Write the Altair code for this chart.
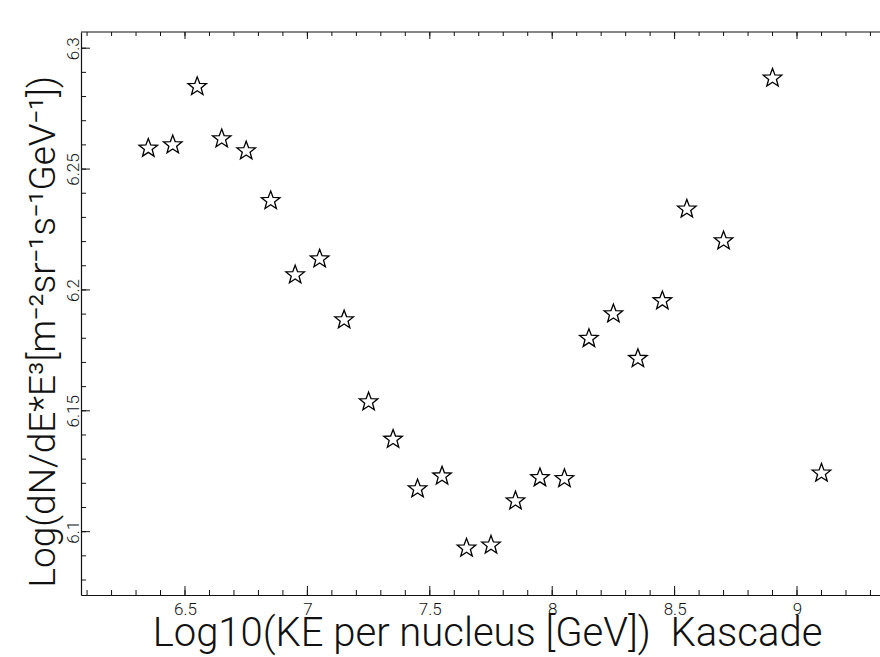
import altair as alt
import pandas as pd

# ---- data ----
x_vals = [6.35, 6.45, 6.55, 6.65, 6.75, 6.85, 6.95, 7.05, 7.15, 7.25, 7.35, 7.45, 7.55,
          7.65, 7.75, 7.85, 7.95, 8.05, 8.15, 8.25, 8.35, 8.45, 8.55, 8.70, 8.90, 9.10]
y_vals = [6.2586, 6.2600, 6.2841, 6.2625, 6.2575, 6.2369, 6.2062, 6.2128, 6.1876, 6.1537,
          6.1382, 6.1177, 6.1230, 6.0932, 6.0944, 6.1127, 6.1223, 6.1219, 6.1799, 6.1901,
          6.1716, 6.1955, 6.2334, 6.2203, 6.2876, 6.1242]

x_major = [6.5, 7.0, 7.5, 8.0, 8.5, 9.0]
x_minor = [round(6.1 + 0.1 * i, 2) for i in range(33)]
y_major = [6.1, 6.15, 6.2, 6.25, 6.3]
y_minor = [round(6.08 + 0.01 * i, 2) for i in range(23)]

x_title = "Log10(KE per nucleus [GeV])\u00a0\u00a0Kascade"
y_title = "Log(dN/dE*E\u00b3[m\u207b\u00b2sr\u207b\u00b9s\u207b\u00b9GeV\u207b\u00b9])"

# ---- layout ----
W, H = 799, 563
FONT = "Roboto"
INK = "#111111"

xs = alt.Scale(domain=[6.0752, 9.339], nice=False, zero=False)
ys = alt.Scale(domain=[6.0738, 6.3067], nice=False, zero=False)

STAR = ("M0,-1L0.2469,-0.3398L0.9511,-0.309L0.3995,0.1298L0.5878,0.809"
        "L0,0.42L-0.5878,0.809L-0.3995,0.1298L-0.9511,-0.309L-0.2469,-0.3398Z")

x_axis = alt.Axis(
    values=x_major, format="~g", ticks=False, tickSize=0, grid=False,
    domain=True, domainColor=INK, domainWidth=1.2,
    labelFont=FONT, labelFontSize=17, labelFontWeight=300, labelColor=INK,
    labelPadding=6, labelBaseline="top",
    title=x_title, titleFont=FONT, titleFontSize=40, titleFontWeight=300,
    titleColor=INK, titleX=406, titleY=50, titleAlign="center",
    titleBaseline="alphabetic")
y_axis = alt.Axis(
    values=y_major, format="~g", ticks=False, tickSize=0, grid=False,
    domain=True, domainColor=INK, domainWidth=1.2,
    labelFont=FONT, labelFontSize=17, labelFontWeight=300, labelColor=INK,
    labelAngle=270, labelAlign="center", labelBaseline="alphabetic",
    labelPadding=3,
    title=y_title, titleFont=FONT, titleFontSize=37, titleFontWeight=300,
    titleColor=INK, titleAngle=270, titleX=-27, titleY=555,
    titleAlign="left", titleBaseline="alphabetic")

df = pd.DataFrame({"x": x_vals, "y": y_vals})

points = alt.Chart(df).mark_point(
    shape=STAR, size=380, filled=False, color="black", strokeWidth=1.3, opacity=1
).encode(
    x=alt.X("x:Q", scale=xs, axis=x_axis),
    y=alt.Y("y:Q", scale=ys, axis=y_axis),
)

def xticks(vals, length, top):
    d = pd.DataFrame({"x": vals})
    if top:
        enc = dict(y=alt.value(0), y2=alt.value(length))
    else:
        enc = dict(y=alt.value(H), y2=alt.value(H - length))
    return alt.Chart(d).mark_rule(color=INK, strokeWidth=1).encode(
        x=alt.X("x:Q", scale=xs, axis=x_axis), **enc)

def yticks(vals, length):
    d = pd.DataFrame({"y": vals})
    return alt.Chart(d).mark_rule(color=INK, strokeWidth=1).encode(
        y=alt.Y("y:Q", scale=ys, axis=y_axis), x=alt.value(0), x2=alt.value(length))

top_line = alt.Chart(pd.DataFrame({"x": [0]})).mark_rule(color=INK, strokeWidth=1.2).encode(
    x=alt.value(0), x2=alt.value(W), y=alt.value(0))

chart = alt.layer(
    points,
    xticks(x_minor, 5, False), xticks(x_major, 9, False),
    xticks(x_minor, 4, True), xticks(x_major, 7, True),
    yticks(y_minor, 5), yticks(y_major, 9),
    top_line,
).properties(
    width=W, height=H,
    autosize=alt.AutoSizeParams(type="none"),
    padding={"left": 81, "top": 32, "right": 0, "bottom": 62},
    background="white",
).configure_view(stroke=None)

chart.save("out.html", embed_options={"renderer": "svg", "actions": False})
